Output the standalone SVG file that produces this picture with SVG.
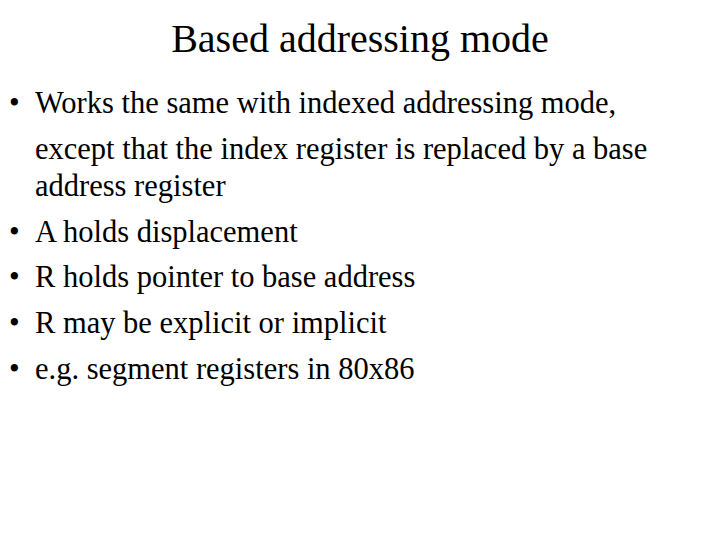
<svg xmlns="http://www.w3.org/2000/svg" width="720" height="540" viewBox="0 0 720 540">
<style>
text{font-family:"Liberation Serif","Times New Roman",serif;fill:#000}
.t{font-size:40px}
.b{font-size:30.5px}
</style>
<rect width="720" height="540" fill="#fff"/>
<g id="title"><text class="t" x="360" y="52" text-anchor="middle">Based addressing mode</text></g>
<g id="bullets">
<text class="b" x="9" y="113">•</text>
<text class="b" x="35" y="113">Works the same with indexed addressing mode,</text>
<text class="b" x="35" y="159">except that the index register is replaced by a base</text>
<text class="b" x="35" y="196">address register</text>
<text class="b" x="9" y="242">•</text>
<text class="b" x="35" y="242">A holds displacement</text>
<text class="b" x="9" y="287">•</text>
<text class="b" x="35" y="287">R holds pointer to base address</text>
<text class="b" x="9" y="333">•</text>
<text class="b" x="35" y="333">R may be explicit or implicit</text>
<text class="b" x="9" y="379">•</text>
<text class="b" x="35" y="379">e.g. segment registers in 80x86</text>
</g>
</svg>
